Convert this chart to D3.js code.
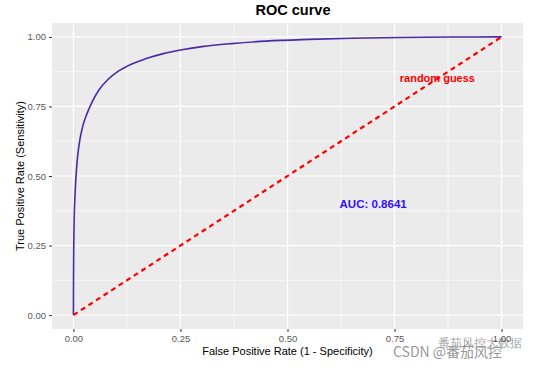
<!DOCTYPE html>
<html>
<head>
<meta charset="utf-8">
<script src="https://cdn.jsdelivr.net/npm/d3@7"></script>
<style>
	body { margin: 0; background: #fff; }
	svg text { font-family: 'Liberation Sans', Arial, sans-serif; }
	.axis-text { fill: #595959; font-size: 9.5px; }
	.axis-title { fill: #000; font-size: 11px; }
</style>
</head>
<body>
<script>
// ROC points
var fpr = [0, 0.0003, 0.0015, 0.004, 0.008, 0.014, 0.022, 0.032, 0.045, 0.06, 0.08, 0.105, 0.135, 0.17, 0.21, 0.25, 0.3, 0.37, 0.45, 0.55, 0.65, 0.76, 0.88, 1.0];
var tpr = [0, 0.15, 0.32, 0.44, 0.54, 0.62, 0.68, 0.725, 0.77, 0.81, 0.846, 0.877, 0.902, 0.922, 0.94, 0.953, 0.965, 0.976, 0.985, 0.991, 0.995, 0.998, 0.9995, 1.0];
var guessX = [0, 1];
var guessY = [0, 1];
var majorTicks = [0, 0.25, 0.5, 0.75, 1];
var minorTicks = [0.125, 0.375, 0.625, 0.875];
var tickLabels = ['0.00', '0.25', '0.50', '0.75', '1.00'];

function RocCurveChart() {
	this.chart = {};
	this.props = {};
	this.props.margin = { top: 23, right: 21, bottom: 41, left: 52 };
	this.props.width = 544 - this.props.margin.left - this.props.margin.right;
	this.props.height = 370 - this.props.margin.top - this.props.margin.bottom;
}

RocCurveChart.prototype.createChart = function() {
	this.chart.root = d3.select('body')
	.append('svg')
		.attr('width', 544)
		.attr('height', 370);
	this.chart.svg = this.chart.root.append('g')
		.attr('transform', 'translate(' + this.props.margin.left + ',' + this.props.margin.top + ')');

	this.chart.x = d3.scaleLinear().domain([-0.05, 1.05]).range([0, this.props.width]);
	this.chart.y = d3.scaleLinear().domain([-0.05, 1.05]).range([this.props.height, 0]);

	this.chart.svg.append('rect')
		.attr('width', this.props.width)
		.attr('height', this.props.height)
		.attr('fill', '#ebebeb');
}

RocCurveChart.prototype.addGrid = function() {
	var x = this.chart.x, y = this.chart.y, w = this.props.width, h = this.props.height;
	var g = this.chart.svg.append('g').attr('class', 'grid');

	g.selectAll('.minor-x').data(minorTicks).enter().append('line')
		.attr('x1', x).attr('x2', x).attr('y1', 0).attr('y2', h)
		.attr('stroke', '#fff').attr('stroke-width', 0.6);
	g.selectAll('.minor-y').data(minorTicks).enter().append('line')
		.attr('y1', y).attr('y2', y).attr('x1', 0).attr('x2', w)
		.attr('stroke', '#fff').attr('stroke-width', 0.6);
	g.selectAll('.major-x').data(majorTicks).enter().append('line')
		.attr('x1', x).attr('x2', x).attr('y1', 0).attr('y2', h)
		.attr('stroke', '#fff').attr('stroke-width', 1.2);
	g.selectAll('.major-y').data(majorTicks).enter().append('line')
		.attr('y1', y).attr('y2', y).attr('x1', 0).attr('x2', w)
		.attr('stroke', '#fff').attr('stroke-width', 1.2);
}

RocCurveChart.prototype.addAxes = function() {
	var xAxis = d3.axisBottom(this.chart.x)
		.tickValues(majorTicks)
		.tickFormat(function(d, i) { return tickLabels[i]; })
		.tickSize(3)
		.tickPadding(3);
	var yAxis = d3.axisLeft(this.chart.y)
		.tickValues(majorTicks)
		.tickFormat(function(d, i) { return tickLabels[i]; })
		.tickSize(3)
		.tickPadding(3);

	var gx = this.chart.svg.append('g')
		.attr('transform', 'translate(0,' + this.props.height + ')')
		.call(xAxis);
	var gy = this.chart.svg.append('g')
		.call(yAxis);

	[gx, gy].forEach(function(g) {
		g.select('.domain').remove();
		g.selectAll('.tick line').attr('stroke', '#333');
		g.selectAll('.tick text')
			.attr('class', 'axis-text')
			.attr('fill', null)
			.style('font-size', '9.5px');
	});

	this.chart.root.append('text')
		.attr('class', 'axis-title')
		.attr('x', this.props.margin.left + this.props.width / 2)
		.attr('y', 355)
		.attr('text-anchor', 'middle')
		.text('False Positive Rate (1 - Specificity)');

	this.chart.root.append('text')
		.attr('class', 'axis-title')
		.attr('transform', 'translate(24,' + (this.props.margin.top + this.props.height / 2) + ') rotate(-90)')
		.attr('text-anchor', 'middle')
		.text('True Positive Rate (Sensitivity)');

	this.chart.root.append('text')
		.attr('x', 293)
		.attr('y', 15)
		.attr('text-anchor', 'middle')
		.style('font-size', '14.5px')
		.style('font-weight', 'bold')
		.text('ROC curve');
}

RocCurveChart.prototype.addLines = function() {
	var x = this.chart.x, y = this.chart.y;

	var guess = guessX.map(function(d, i) { return [d, guessY[i]]; });
	var roc = fpr.map(function(d, i) { return [d, tpr[i]]; });

	var line = d3.line()
		.x(function(d) { return x(d[0]); })
		.y(function(d) { return y(d[1]); });

	this.chart.svg.append('path')
		.datum(roc)
		.attr('d', line.curve(d3.curveMonotoneX))
		.attr('fill', 'none')
		.attr('stroke', '#4a2aa6')
		.attr('stroke-width', 1.6);

	this.chart.svg.append('path')
		.datum(guess)
		.attr('d', line.curve(d3.curveLinear))
		.attr('fill', 'none')
		.attr('stroke', '#ff0000')
		.attr('stroke-width', 2.2)
		.attr('stroke-dasharray', '5,4');
}

RocCurveChart.prototype.addLabels = function() {
	var x = this.chart.x, y = this.chart.y;

	this.chart.svg.append('text')
		.attr('x', x(0.85))
		.attr('y', y(0.85))
		.attr('dy', '0.35em')
		.attr('text-anchor', 'middle')
		.attr('fill', '#ff0000')
		.style('font-size', '11px')
		.style('font-weight', 'bold')
		.text('random guess');

	this.chart.svg.append('text')
		.attr('x', x(0.7))
		.attr('y', y(0.4))
		.attr('dy', '0.35em')
		.attr('text-anchor', 'middle')
		.attr('fill', '#3311ff')
		.style('font-size', '11.5px')
		.style('font-weight', 'bold')
		.text('AUC: 0.8641');
}

RocCurveChart.prototype.addWatermark = function() {
	this.chart.root.append('text')
		.attr('x', 438)
		.attr('y', 347)
		.attr('fill', '#333')
		.attr('opacity', 0.45)
		.style('font-size', '12px')
		.text('番茄风控大数据');

	this.chart.root.append('text')
		.attr('x', 393)
		.attr('y', 357)
		.attr('fill', '#999')
		.style('font-size', '14px')
		.style('font-family', "'Noto Sans CJK SC', 'Liberation Sans', sans-serif")
		.text('CSDN @番茄风控');
}

var chart = new RocCurveChart();
chart.createChart();
chart.addGrid();
chart.addAxes();
chart.addLines();
chart.addLabels();
chart.addWatermark();
</script>
</body>
</html>
